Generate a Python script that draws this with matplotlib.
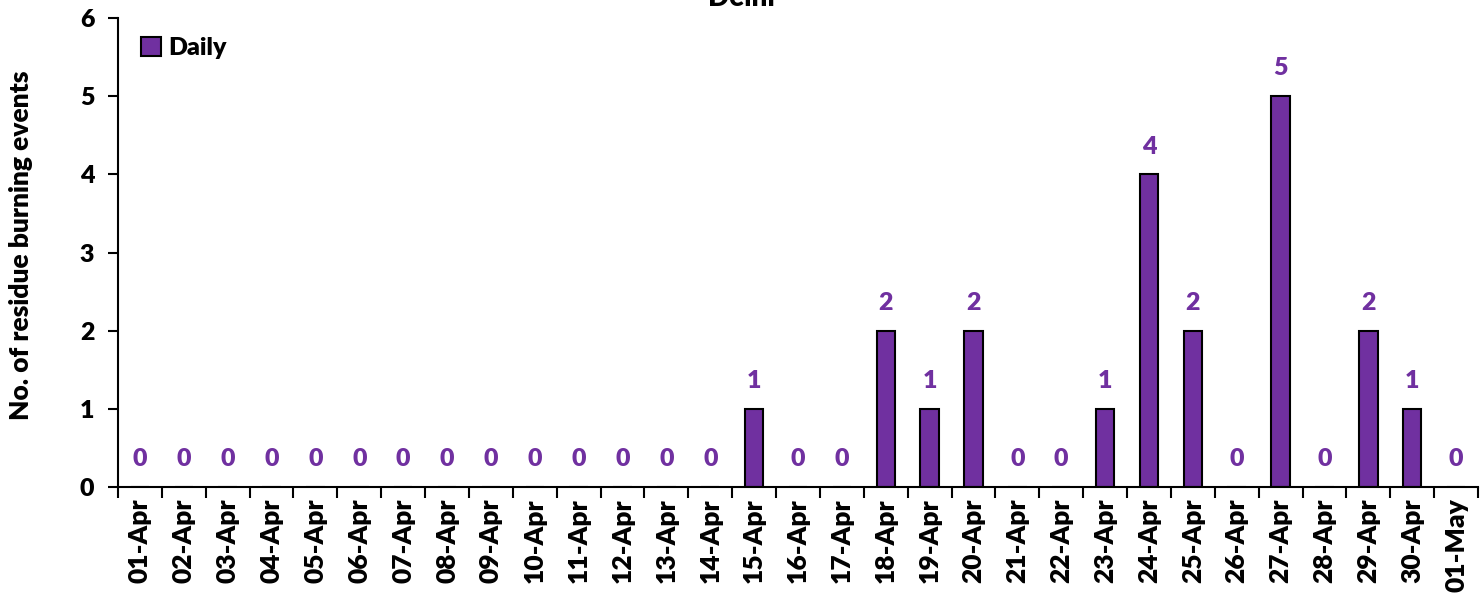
import matplotlib
matplotlib.use("Agg")
import matplotlib.pyplot as plt
import numpy as np
from matplotlib.patches import Patch

plt.rcParams['font.family'] = ['Lato', 'DejaVu Sans']
W = 'heavy'
plt.rcParams['font.weight'] = W

dates = ['01-Apr', '02-Apr', '03-Apr', '04-Apr', '05-Apr', '06-Apr', '07-Apr', '08-Apr',
         '09-Apr', '10-Apr', '11-Apr', '12-Apr', '13-Apr', '14-Apr', '15-Apr', '16-Apr',
         '17-Apr', '18-Apr', '19-Apr', '20-Apr', '21-Apr', '22-Apr', '23-Apr', '24-Apr',
         '25-Apr', '26-Apr', '27-Apr', '28-Apr', '29-Apr', '30-Apr', '01-May']
daily = [0, 0, 0, 0, 0, 0, 0, 0, 0, 0, 0, 0, 0, 0, 1, 0, 0, 2, 1, 2, 0, 0, 1, 4, 2, 0, 5, 0, 2, 1, 0]

purple = '#7030A0'
fs = 18

fig = plt.figure(figsize=(14.82, 6), dpi=100)
ax = fig.add_axes([118/1482, 1-487/600, 1360/1482, 469/600])

x = np.arange(len(dates))
ax.bar(x, daily, width=0.42, color=purple, edgecolor='black', linewidth=1.5)
for xi, v in zip(x, daily):
    ax.annotate(str(v), (xi, v), xytext=(0, 20), textcoords='offset points',
                ha='center', va='center', color=purple, fontsize=fs, fontweight=W)

ax.set_xlim(-0.5, len(dates) - 0.5)
ax.set_ylim(0, 6)
ax.set_yticks(range(0, 7))
ax.set_xticks(x)
ax.set_xticklabels(dates, rotation=90, fontsize=fs + 1, fontweight=W)
ax.set_xticks(np.arange(-0.5, len(dates), 1.0), minor=True)
ax.tick_params(axis='x', which='major', length=0, pad=8)
ax.tick_params(axis='x', which='minor', length=8, width=1.5, direction='out')
ax.tick_params(axis='y', length=7, width=1.5, direction='out', labelsize=fs, pad=10)
for lab in ax.get_yticklabels():
    lab.set_fontweight(W)

for s in ['top', 'right']:
    ax.spines[s].set_visible(False)
for s in ['left', 'bottom']:
    ax.spines[s].set_linewidth(1.5)

ax.set_ylabel('No. of residue burning events', fontsize=fs + 1, fontweight=W)
ax.yaxis.set_label_coords(-0.0625, 0.516)

leg = ax.legend(handles=[Patch(facecolor=purple, edgecolor='black', linewidth=1.5, label='Daily')],
                loc='upper left', bbox_to_anchor=(0.004, 0.997), frameon=False,
                prop={'weight': W, 'size': fs}, handlelength=0.8, handleheight=0.8,
                handletextpad=0.3, borderaxespad=0.3)

fig.text(0.5, 1.003, 'Delhi', ha='center', va='center', fontsize=fs + 2, fontweight=W)

fig.savefig('out.png', dpi=100)
